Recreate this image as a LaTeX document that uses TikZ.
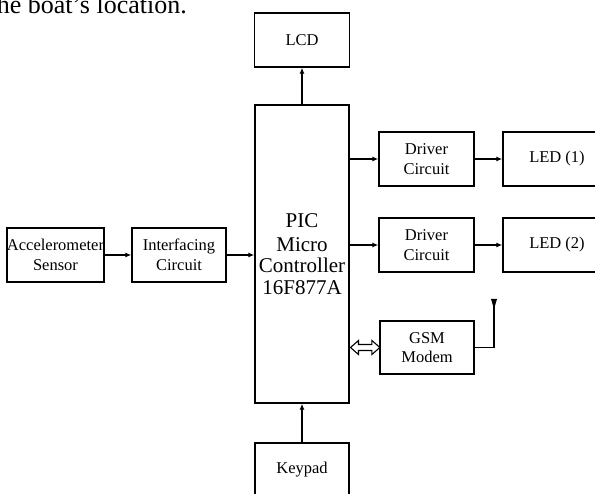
\documentclass[tikz,border=0pt]{standalone}
\usepackage{fontspec}
\setmainfont{Liberation Serif}
\usetikzlibrary{arrows.meta}
\begin{document}
\begin{tikzpicture}[x=1pt,y=-1pt,
  blk/.style={draw,line width=1.4pt,minimum width=95pt,minimum height=54pt,inner sep=0pt,align=center,font=\fontsize{16.5}{19.5}\selectfont},
  conn/.style={line width=1.4pt,-{Latex[length=6pt,width=5pt]}},
  dbl/.style={draw,line width=1.1pt,fill=white,line join=miter}]
\useasboundingbox (0,0) rectangle (595,494);
\clip (0,0) rectangle (595,494);
\node[anchor=base east,font=\fontsize{26}{28}\selectfont,inner sep=0pt] (cap) at (187,14) {the boat’s location.};
\node[blk] (lcd) at (302,40) {LCD};
\node[blk,minimum width=94pt,minimum height=298pt,font=\fontsize{21}{21.5}\selectfont] (pic) at (302,254) {\raisebox{2pt}{PIC}\\Micro\\Controller\\16F877A};
\node[blk,minimum width=94pt] (key) at (302,470) {Keypad};
\node[blk] (acc) at (55.5,255) {Accelerometer\\Sensor};
\node[blk,minimum width=94pt] (int) at (179,255) {Interfacing\\Circuit};
\node[blk] (d1) at (426.5,159) {Driver\\Circuit};
\node[blk] (d2) at (426.5,245) {Driver\\Circuit};
\node[blk,minimum width=108pt] (l1) at (557,159) {LED (1)};
\node[blk,minimum width=108pt] (l2) at (557,245) {LED (2)};
\node[blk,minimum width=94pt,minimum height=53pt] (gsm) at (427,347.5) {GSM\\Modem};
\coordinate (ant) at (494,300);
\coordinate (dl) at (gsm.west -| pic.east);
\draw[conn] (pic.north) -- (lcd.south);
\draw[conn] (key.north) -- (pic.south);
\draw[conn] (acc.east) -- (int.west);
\draw[conn] (int.east) -- (pic.west |- int.east);
\draw[conn] (d1.west -| pic.east) -- (d1.west);
\draw[conn] (d2.west -| pic.east) -- (d2.west);
\draw[conn] (d1.east) -- (l1.west);
\draw[conn] (d2.east) -- (l2.west);
\draw[dbl] ([xshift=0.8pt]dl) -- ++(8,-7) -- ++(0,4) -- ++(13.4,0) -- ++(0,-4) -- ++(8,7)
  -- ++(-8,7) -- ++(0,-4) -- ++(-13.4,0) -- ++(0,4) -- cycle;
\draw[line width=1.4pt] (gsm.east) -- (gsm.east -| ant) -- (ant);
\fill (ant) ++(-3,-1) -- ++(6,0) -- ++(-3,10) -- cycle;
\end{tikzpicture}
\end{document}
